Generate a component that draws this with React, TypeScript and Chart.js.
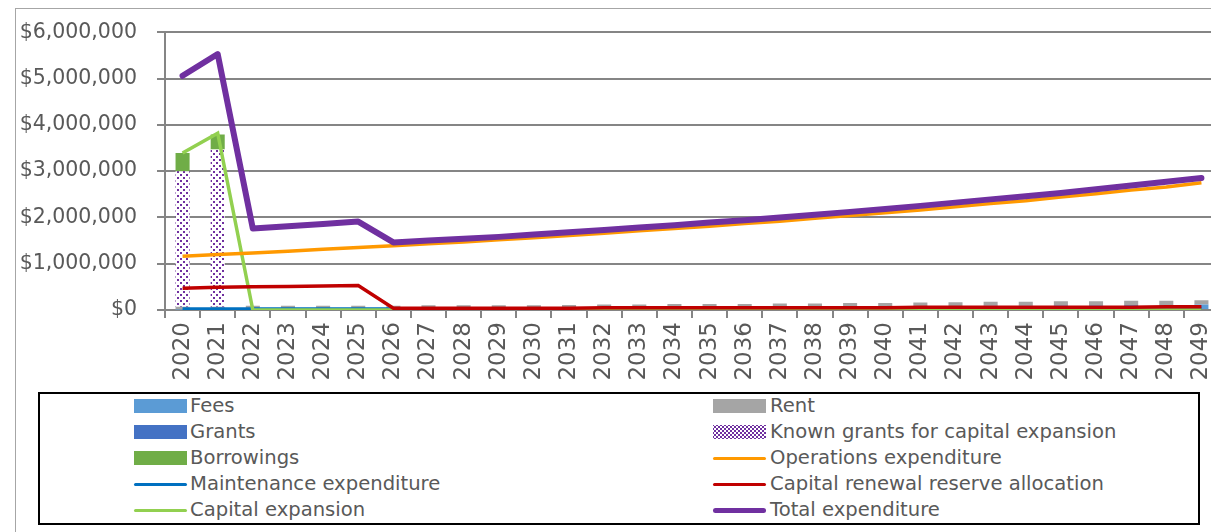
import React, { useEffect, useRef } from 'react';
import { Chart, registerables } from 'chart.js';

Chart.register(...registerables);

const years = ['2020','2021','2022','2023','2024','2025','2026','2027','2028','2029','2030','2031','2032','2033','2034','2035','2036','2037','2038','2039','2040','2041','2042','2043','2044','2045','2046','2047','2048','2049'];

const fees = [10000,10000,20000,20000,20000,20000,20000,30000,30000,30000,30000,40000,40000,40000,50000,50000,50000,60000,60000,70000,70000,80000,80000,90000,90000,100000,100000,110000,110000,120000];
const rent = [60000,60000,70000,70000,70000,70000,70000,70000,70000,70000,70000,70000,80000,80000,80000,80000,80000,80000,80000,80000,80000,80000,90000,90000,90000,90000,90000,90000,90000,90000];
const grants = [0,0,0,0,0,0,0,0,0,0,0,0,0,0,0,0,0,0,0,0,0,0,0,0,0,0,0,0,0,0];
const knownGrants = [2930000,3400000,0,0,0,0,0,0,0,0,0,0,0,0,0,0,0,0,0,0,0,0,0,0,0,0,0,0,0,0];
const borrowings = [390000,320000,0,0,0,0,0,0,0,0,0,0,0,0,0,0,0,0,0,0,0,0,0,0,0,0,0,0,0,0];
const operations = [1160000,1200000,1230000,1270000,1310000,1350000,1390000,1430000,1470000,1520000,1560000,1610000,1660000,1710000,1760000,1810000,1870000,1920000,1980000,2040000,2100000,2160000,2230000,2300000,2360000,2440000,2510000,2590000,2660000,2750000];
const maintenance = [20000,20000,20000,20000,20000,20000,20000,20000,20000,20000,20000,20000,20000,20000,20000,20000,20000,30000,30000,30000,30000,30000,30000,30000,30000,30000,30000,30000,30000,30000];
const renewal = [470000,490000,500000,510000,520000,530000,40000,40000,40000,40000,40000,40000,50000,50000,50000,50000,50000,50000,50000,50000,50000,60000,60000,60000,60000,60000,60000,60000,70000,70000];
const capitalExpansion = [3390000,3820000,0,0,0,0,0,0,0,0,0,0,0,0,0,0,0,0,0,0,0,0,0,0,0,0,0,0,0,0];
const totalExpenditure = [5060000,5530000,1760000,1810000,1860000,1910000,1460000,1500000,1540000,1580000,1630000,1680000,1730000,1780000,1830000,1890000,1940000,2000000,2060000,2120000,2180000,2250000,2320000,2390000,2460000,2530000,2610000,2690000,2770000,2850000];

const yTicks = [0, 1000000, 2000000, 3000000, 4000000, 5000000, 6000000];

const C = {
  fees: '#5b9bd5',
  rent: '#a5a5a5',
  grants: '#4472c4',
  known: '#7030a0',
  borrow: '#70ad47',
  ops: '#ff9900',
  maint: '#0070c0',
  renew: '#c00000',
  capex: '#92d050',
  total: '#7030a0',
};

type LegendItem = { label: string; kind: 'bar' | 'line' | 'pattern'; color: string; lw?: number };

const legendItems: LegendItem[] = [
  { label: 'Fees', kind: 'bar', color: C.fees },
  { label: 'Rent', kind: 'bar', color: C.rent },
  { label: 'Grants', kind: 'bar', color: C.grants },
  { label: 'Known grants for capital expansion', kind: 'pattern', color: C.known },
  { label: 'Borrowings', kind: 'bar', color: C.borrow },
  { label: 'Operations expenditure', kind: 'line', color: C.ops, lw: 3 },
  { label: 'Maintenance expenditure', kind: 'line', color: C.maint, lw: 3 },
  { label: 'Capital renewal reserve allocation', kind: 'line', color: C.renew, lw: 3 },
  { label: 'Capital expansion', kind: 'line', color: C.capex, lw: 3 },
  { label: 'Total expenditure', kind: 'line', color: C.total, lw: 5 },
];

const TXT = '#595959';
const GRID = '#858585';

export default function App() {
  const ref = useRef<HTMLCanvasElement | null>(null);

  useEffect(() => {
    const canvas = ref.current;
    if (!canvas) return;
    const pc = document.createElement('canvas');
    pc.width = 6;
    pc.height = 6;
    const g = pc.getContext('2d')!;
    g.fillStyle = '#ffffff';
    g.fillRect(0, 0, 6, 6);
    g.fillStyle = C.known;
    g.fillRect(0, 0, 2, 2);
    g.fillRect(3, 3, 2, 2);
    const ctx = canvas.getContext('2d')!;
    const pattern = ctx.createPattern(pc, 'repeat')!;

    const barBase = { type: 'bar' as const, stack: 'bars', order: 10, borderWidth: 0, categoryPercentage: 1, barPercentage: 0.4 };
    const lineBase = { type: 'line' as const, pointRadius: 0, pointHoverRadius: 0, tension: 0, fill: false };

    const chart = new Chart(canvas, {
      type: 'bar',
      data: {
        labels: years,
        datasets: [
          { ...barBase, label: 'Fees', data: fees, backgroundColor: C.fees },
          { ...barBase, label: 'Rent', data: rent, backgroundColor: C.rent },
          { ...barBase, label: 'Grants', data: grants, backgroundColor: C.grants },
          { ...barBase, label: 'Known grants for capital expansion', data: knownGrants, backgroundColor: pattern as any },
          { ...barBase, label: 'Borrowings', data: borrowings, backgroundColor: C.borrow },
          { ...lineBase, label: 'Operations expenditure', data: operations, borderColor: C.ops, borderWidth: 3.5, stack: 'l1', order: 2 },
          { ...lineBase, label: 'Maintenance expenditure', data: maintenance, borderColor: C.maint, borderWidth: 3.5, stack: 'l2', order: 4 },
          { ...lineBase, label: 'Capital renewal reserve allocation', data: renewal, borderColor: C.renew, borderWidth: 3.5, stack: 'l3', order: 1 },
          { ...lineBase, label: 'Capital expansion', data: capitalExpansion, borderColor: C.capex, borderWidth: 3.5, stack: 'l4', order: 3 },
          { ...lineBase, label: 'Total expenditure', data: totalExpenditure, borderColor: C.total, borderWidth: 6, stack: 'l5', order: 0, borderCapStyle: 'round', borderJoinStyle: 'round' },
        ] as any,
      },
      options: {
        responsive: false,
        animation: false,
        devicePixelRatio: 1,
        layout: { padding: { top: 30, right: 41, left: 0, bottom: 0 } },
        plugins: { legend: { display: false }, tooltip: { enabled: false } },
        scales: {
          x: {
            stacked: true,
            offset: true,
            afterFit: (s: any) => { s.height = 82; },
            grid: { display: true, drawOnChartArea: false, drawTicks: true, tickLength: 8, offset: true, color: GRID, lineWidth: 2 },
            border: { display: true, color: GRID, width: 2 },
            ticks: {
              autoSkip: false,
              maxRotation: 90,
              minRotation: 90,
              padding: 4,
              color: TXT,
              font: { family: 'DejaVu Sans', size: 23 },
            },
          },
          y: {
            stacked: true,
            min: 0,
            max: 6000000,
            afterFit: (s: any) => { s.width = 165; },
            afterBuildTicks: (s: any) => { s.ticks = yTicks.map((v) => ({ value: v })); },
            grid: { display: true, drawTicks: true, tickLength: 8, color: GRID, lineWidth: 2 },
            border: { display: true, color: GRID, width: 2 },
            ticks: {
              padding: 20,
              color: TXT,
              font: { family: 'DejaVu Sans', size: 20.5 },
              callback: (v: any) => '$' + Number(v).toLocaleString('en-US'),
            },
          },
        },
      },
    });
    return () => chart.destroy();
  }, []);

  const rows = [406, 432, 458, 484, 510];

  return (
    <div style={{ position: 'fixed', left: 0, top: 0, width: 1211, height: 532, overflow: 'hidden', background: '#fff' }}>
      <div style={{ position: 'absolute', left: 15, top: 8, width: 1400, height: 800, border: '1px solid #a6a6a6' }} />
      <canvas ref={ref} width={1260} height={392} style={{ position: 'absolute', left: 0, top: 0, width: 1260, height: 392 }} />
      <div style={{ position: 'absolute', left: 38, top: 392, width: 1162, height: 133, border: '2px solid #000', boxSizing: 'border-box' }} />
      {legendItems.map((it, i) => {
        const col = i % 2;
        const cy = rows[Math.floor(i / 2)];
        const sx = col === 0 ? 134 : 713;
        const tx = col === 0 ? 190 : 770;
        let swatch: React.CSSProperties;
        if (it.kind === 'line') {
          const h = it.lw || 3;
          swatch = { position: 'absolute', left: sx, top: cy - h / 2, width: 53, height: h, background: it.color, borderRadius: h / 2 };
        } else if (it.kind === 'pattern') {
          swatch = {
            position: 'absolute', left: sx, top: cy - 7, width: 53, height: 14,
            background: `radial-gradient(circle, ${it.color} 0.9px, transparent 1.1px) 0 0 / 4px 4px, radial-gradient(circle, ${it.color} 0.9px, transparent 1.1px) 2px 2px / 4px 4px, #fff`,
          };
        } else {
          swatch = { position: 'absolute', left: sx, top: cy - 7, width: 53, height: 14, background: it.color };
        }
        return (
          <React.Fragment key={it.label}>
            <div style={swatch} />
            <div style={{ position: 'absolute', left: tx, top: cy - 13, height: 26, lineHeight: '26px', fontFamily: 'DejaVu Sans', fontSize: 19.6, color: TXT, whiteSpace: 'nowrap' }}>{it.label}</div>
          </React.Fragment>
        );
      })}
    </div>
  );
}
